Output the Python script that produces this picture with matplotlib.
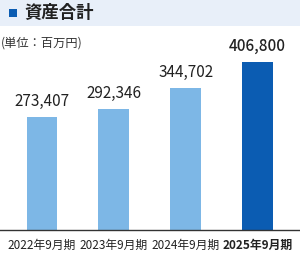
import matplotlib.pyplot as plt
from matplotlib.patches import Rectangle

plt.rcParams['font.family'] = ['Noto Sans CJK JP', 'DejaVu Sans']

# data
periods = ['2022年9月期', '2023年9月期', '2024年9月期', '2025年9月期']
assets = [273407, 292346, 344702, 406800]
bar_colors = ['#7db7e6', '#7db7e6', '#7db7e6', '#0b5cb2']

fig = plt.figure(figsize=(3.0, 2.56), dpi=100)

# header band
fig.patches.append(Rectangle((0, 1 - 26 / 256), 1, 26 / 256, transform=fig.transFigure,
                             facecolor='#e8eff9', edgecolor='none', zorder=0))
fig.patches.append(Rectangle((9 / 300, 1 - 17 / 256), 8 / 300, 8 / 256, transform=fig.transFigure,
                             facecolor='#0b5cb2', edgecolor='none', zorder=1))
fig.text(24 / 300, 1 - 13 / 256, '資産合計', fontsize=12.5, fontweight='bold',
         color='#222222', va='center', ha='left')
fig.text(1 / 300, 1 - 43 / 256, '(単位：百万円)', fontsize=8.8, color='#333333',
         va='center', ha='left')

ax = fig.add_axes([0, 26 / 256, 1, 200 / 256])
x = range(len(periods))
bars = ax.bar(x, assets, width=0.43, color=bar_colors, zorder=2)
ax.set_xlim(-0.585, 3.593)
ax.set_ylim(0, 406800 * 200 / 168)

for i, (b, v) in enumerate(zip(bars, assets)):
    ax.annotate(f'{v:,}', (b.get_x() + b.get_width() / 2, v), xytext=(0, 5),
                textcoords='offset points', ha='center', va='bottom',
                fontsize=11, color='#222222',
                fontweight='medium' if i == 3 else 'normal')

ax.set_xticks(list(x))
ax.set_xticklabels(periods, fontsize=8.5, color='#222222')
ax.get_xticklabels()[3].set_fontweight('bold')
ax.tick_params(axis='x', length=0, pad=6.5)
ax.set_yticks([])
for s in ['top', 'right', 'left']:
    ax.spines[s].set_visible(False)
ax.spines['bottom'].set_color('#333333')
ax.spines['bottom'].set_linewidth(1)
ax.patch.set_alpha(0)

fig.savefig('out.png', dpi=100)
